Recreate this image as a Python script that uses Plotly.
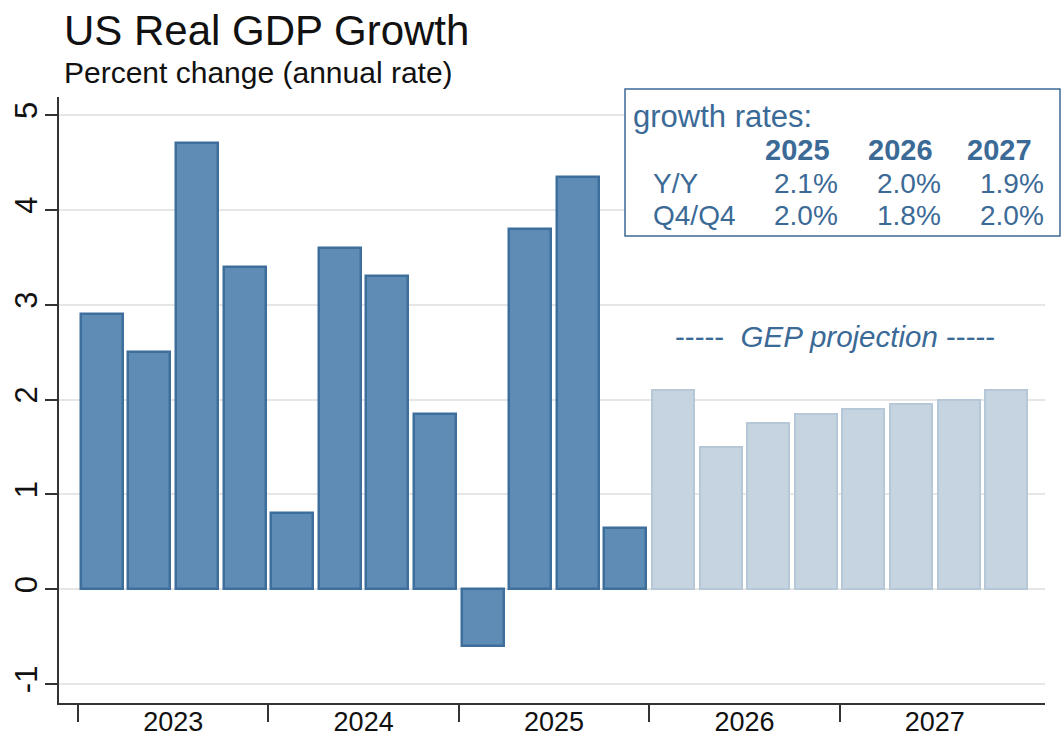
import plotly.graph_objects as go

# Quarterly real GDP growth, percent change at an annual rate
years = ["2023", "2024", "2025", "2026", "2027"]
actual_growth = [2.9, 2.5, 4.7, 3.4,      # 2023
                 0.8, 3.6, 3.3, 1.85,     # 2024
                 -0.6, 3.8, 4.35, 0.65]   # 2025
projected_growth = [2.1, 1.5, 1.75, 1.85,  # 2026
                    1.9, 1.95, 2.0, 2.1]   # 2027

# Annual summary table
table_years = ["2025", "2026", "2027"]
yy_rates = [2.1, 2.0, 1.9]
q4q4_rates = [2.0, 1.8, 2.0]

y_ticks = [-1, 0, 1, 2, 3, 4, 5]

n_act = len(actual_growth)
n_proj = len(projected_growth)
x_act = list(range(n_act))
x_proj = list(range(n_act, n_act + n_proj))
quarters_per_year = 4
year_centers = [i * quarters_per_year + 1.5 for i in range(len(years))]
year_bounds = [i * quarters_per_year - 0.5 for i in range(len(years))]

BLUE_DARK = "#3e6e9b"
BLUE_FILL = "#5f8cb4"
PROJ_FILL = "#c6d4e1"
PROJ_LINE = "#b6c7d8"
TEXT_BLUE = "#3b6a97"
FONT = "Liberation Sans, Arial, Helvetica, sans-serif"

W, H = 1064, 737
L, R, T, B = 59, 1045, 97, 703


def px(x):
    return (x - L) / (R - L)


def py(y):
    return (B - y) / (B - T)


fig = go.Figure()
fig.add_trace(go.Bar(
    x=x_act, y=actual_growth, width=0.88,
    marker=dict(color=BLUE_FILL, line=dict(color=BLUE_DARK, width=2.5)),
    showlegend=False, hoverinfo="y",
))
fig.add_trace(go.Bar(
    x=x_proj, y=projected_growth, width=0.88,
    marker=dict(color=PROJ_FILL, line=dict(color=PROJ_LINE, width=2)),
    showlegend=False, hoverinfo="y",
))
# invisible trace carrying the label axes (year labels and y tick labels)
fig.add_trace(go.Scatter(
    x=year_centers, y=[0] * len(year_centers), xaxis="x2", yaxis="y2",
    mode="markers", marker=dict(opacity=0), showlegend=False, hoverinfo="skip",
))

x_range = [-0.9, 19.815]
y_range = [-1.2, 5.19]

fig.update_layout(
    width=W, height=H,
    margin=dict(l=L, r=W - R, t=T, b=H - B, pad=0, autoexpand=False),
    paper_bgcolor="white", plot_bgcolor="white",
    font=dict(family=FONT, color="#111111"),
    bargap=0,
    xaxis=dict(
        range=x_range, tickvals=year_bounds, ticktext=[""] * len(year_bounds),
        ticks="outside", ticklen=17, tickwidth=1.5, tickcolor="#333333",
        showline=True, linecolor="#333333", linewidth=2,
        showgrid=False, zeroline=False, automargin=False,
    ),
    xaxis2=dict(
        overlaying="x", anchor="y2", side="bottom", range=x_range,
        tickvals=year_centers, ticktext=years, ticks="",
        ticklabelstandoff=0,
        tickfont=dict(size=27, color="#111111"),
        showline=False, showgrid=False, zeroline=False, automargin=False,
    ),
    yaxis=dict(
        range=y_range, tickvals=y_ticks, ticktext=[""] * len(y_ticks),
        ticks="outside", ticklen=12, tickwidth=1.5, tickcolor="#333333",
        showline=True, linecolor="#333333", linewidth=2,
        showgrid=True, gridcolor="#e6e6e6", gridwidth=1.5,
        zeroline=False, automargin=False,
    ),
    yaxis2=dict(
        overlaying="y", anchor="x2", side="left", range=y_range,
        tickvals=y_ticks, ticktext=[str(v) for v in y_ticks],
        tickangle=-90, ticks="", ticklabelstandoff=15,
        tickfont=dict(size=31, color="#111111"),
        showline=False, showgrid=False, zeroline=False, automargin=False,
    ),
)

annotations = [
    dict(text="US Real GDP Growth", x=px(62), y=py(30), xanchor="left", yanchor="middle",
         font=dict(size=42, color="#111111")),
    dict(text="Percent change (annual rate)", x=px(62), y=py(73), xanchor="left", yanchor="middle",
         font=dict(size=30, color="#111111")),
    dict(text="-----  <i>GEP projection</i> -----", x=px(835), y=py(336),
         xanchor="center", yanchor="middle", font=dict(size=29.5, color=TEXT_BLUE)),
    dict(text="growth rates:", x=px(631), y=py(117), xanchor="left", yanchor="middle",
         font=dict(size=31, color=TEXT_BLUE)),
    dict(text="Y/Y", x=px(651), y=py(183), xanchor="left", yanchor="middle",
         font=dict(size=28, color=TEXT_BLUE)),
    dict(text="Q4/Q4", x=px(651), y=py(215), xanchor="left", yanchor="middle",
         font=dict(size=28, color=TEXT_BLUE)),
]
header_right = [832, 935, 1034]
value_right = [840, 943, 1046]
for i, yr in enumerate(table_years):
    annotations.append(dict(text=f"<b>{yr}</b>", x=px(header_right[i]), y=py(150),
                            xanchor="right", yanchor="middle",
                            font=dict(size=29, color=TEXT_BLUE)))
    annotations.append(dict(text=f"{yy_rates[i]:.1f}%", x=px(value_right[i]), y=py(183),
                            xanchor="right", yanchor="middle",
                            font=dict(size=28, color=TEXT_BLUE)))
    annotations.append(dict(text=f"{q4q4_rates[i]:.1f}%", x=px(value_right[i]), y=py(215),
                            xanchor="right", yanchor="middle",
                            font=dict(size=28, color=TEXT_BLUE)))
for a in annotations:
    a.update(xref="paper", yref="paper", showarrow=False)
fig.update_layout(annotations=annotations)

fig.add_shape(type="rect", xref="paper", yref="paper",
              x0=px(625), x1=px(1060), y0=py(236), y1=py(89),
              line=dict(color=TEXT_BLUE, width=1.5), fillcolor="white", layer="above")

fig.write_html("out.html")
